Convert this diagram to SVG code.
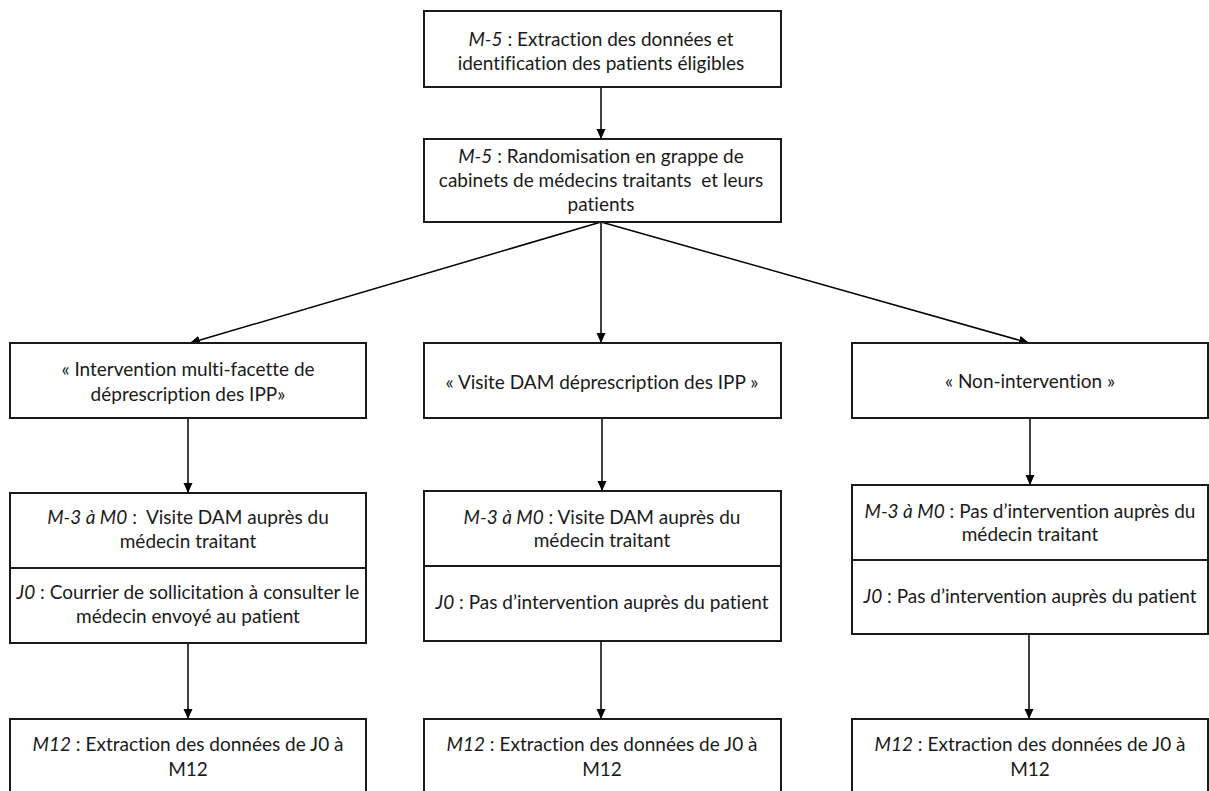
<svg xmlns="http://www.w3.org/2000/svg" width="1209" height="791" viewBox="0 0 1209 791">
<style>
.box{fill:#fff;stroke:#1a1a1a;stroke-width:2}
.div{stroke:#1a1a1a;stroke-width:2}
.t{font-family:Lato,"Liberation Sans",sans-serif;font-size:19px;fill:#1a1a1a;text-anchor:middle;white-space:pre;font-variant-ligatures:none}
.i{font-style:italic}
.c{stroke:#000;stroke-width:1.5;fill:none;marker-end:url(#ah)}
</style>
<defs>
<marker id="ah" markerUnits="userSpaceOnUse" markerWidth="10" markerHeight="10" refX="10" refY="4.5" orient="auto">
<path d="M0,0 L10,4.5 L0,9 z" fill="#000"/>
</marker>
</defs>
<rect width="1209" height="791" fill="#fff"/>
<g id="connectors">
<line class="c" x1="601" y1="87" x2="601" y2="139"/>
<line class="c" x1="601" y1="222" x2="190" y2="343"/>
<line class="c" x1="601" y1="222" x2="601" y2="343"/>
<line class="c" x1="601" y1="222" x2="1029" y2="343"/>
<line class="c" x1="188" y1="418" x2="188" y2="493"/>
<line class="c" x1="602" y1="418" x2="602" y2="491"/>
<line class="c" x1="1030" y1="418" x2="1030" y2="485"/>
<line class="c" x1="188" y1="643" x2="188" y2="719"/>
<line class="c" x1="601" y1="641" x2="601" y2="719"/>
<line class="c" x1="1029" y1="635" x2="1029" y2="719"/>
</g>
<g id="n1">
<rect class="box" x="424" y="11" width="357" height="76"/>
<text class="t" x="601" y="46"><tspan class="i">M-5</tspan> : Extraction des données et</text>
<text class="t" x="601" y="70">identification des patients éligibles</text>
</g>
<g id="n2">
<rect class="box" x="424" y="139" width="357" height="83"/>
<text class="t" x="601" y="163"><tspan class="i">M-5</tspan> : Randomisation en grappe de</text>
<text class="t" x="601" y="187">cabinets de médecins traitants  et leurs</text>
<text class="t" x="601" y="211">patients</text>
</g>
<g id="n3">
<rect class="box" x="10" y="343" width="356" height="75"/>
<text class="t" x="188" y="376">« Intervention multi-facette de</text>
<text class="t" x="188" y="401">déprescription des IPP»</text>
</g>
<g id="n4">
<rect class="box" x="424" y="343" width="357" height="75"/>
<text class="t" x="602" y="389">« Visite DAM déprescription des IPP »</text>
</g>
<g id="n5">
<rect class="box" x="852" y="343" width="356" height="75"/>
<text class="t" x="1030" y="388">« Non-intervention »</text>
</g>
<g id="n6">
<rect class="box" x="10" y="493" width="356" height="150"/>
<line class="div" x1="10" y1="568" x2="366" y2="568"/>
<text class="t" x="188" y="524"><tspan class="i">M-3 à M0</tspan> :  Visite DAM auprès du</text>
<text class="t" x="188" y="548">médecin traitant</text>
<text class="t" x="188" y="599"><tspan class="i">J0</tspan> : Courrier de sollicitation à consulter le</text>
<text class="t" x="188" y="623">médecin envoyé au patient</text>
</g>
<g id="n7">
<rect class="box" x="424" y="491" width="357" height="150"/>
<line class="div" x1="424" y1="566" x2="781" y2="566"/>
<text class="t" x="602" y="524"><tspan class="i">M-3 à M0</tspan> : Visite DAM auprès du</text>
<text class="t" x="602" y="547">médecin traitant</text>
<text class="t" x="602" y="609"><tspan class="i">J0</tspan> : Pas d’intervention auprès du patient</text>
</g>
<g id="n8">
<rect class="box" x="852" y="485" width="356" height="149"/>
<line class="div" x1="852" y1="560" x2="1208" y2="560"/>
<text class="t" x="1030" y="518"><tspan class="i">M-3 à M0</tspan> : Pas d’intervention auprès du</text>
<text class="t" x="1030" y="541">médecin traitant</text>
<text class="t" x="1030" y="603"><tspan class="i">J0</tspan> : Pas d’intervention auprès du patient</text>
</g>
<g id="n9">
<rect class="box" x="10" y="719" width="356" height="90"/>
<text class="t" x="188" y="751"><tspan class="i">M12</tspan> : Extraction des données de J0 à</text>
<text class="t" x="188" y="776">M12</text>
</g>
<g id="n10">
<rect class="box" x="424" y="719" width="357" height="90"/>
<text class="t" x="602" y="751"><tspan class="i">M12</tspan> : Extraction des données de J0 à</text>
<text class="t" x="602" y="776">M12</text>
</g>
<g id="n11">
<rect class="box" x="852" y="719" width="356" height="90"/>
<text class="t" x="1030" y="751"><tspan class="i">M12</tspan> : Extraction des données de J0 à</text>
<text class="t" x="1030" y="776">M12</text>
</g>
</svg>
